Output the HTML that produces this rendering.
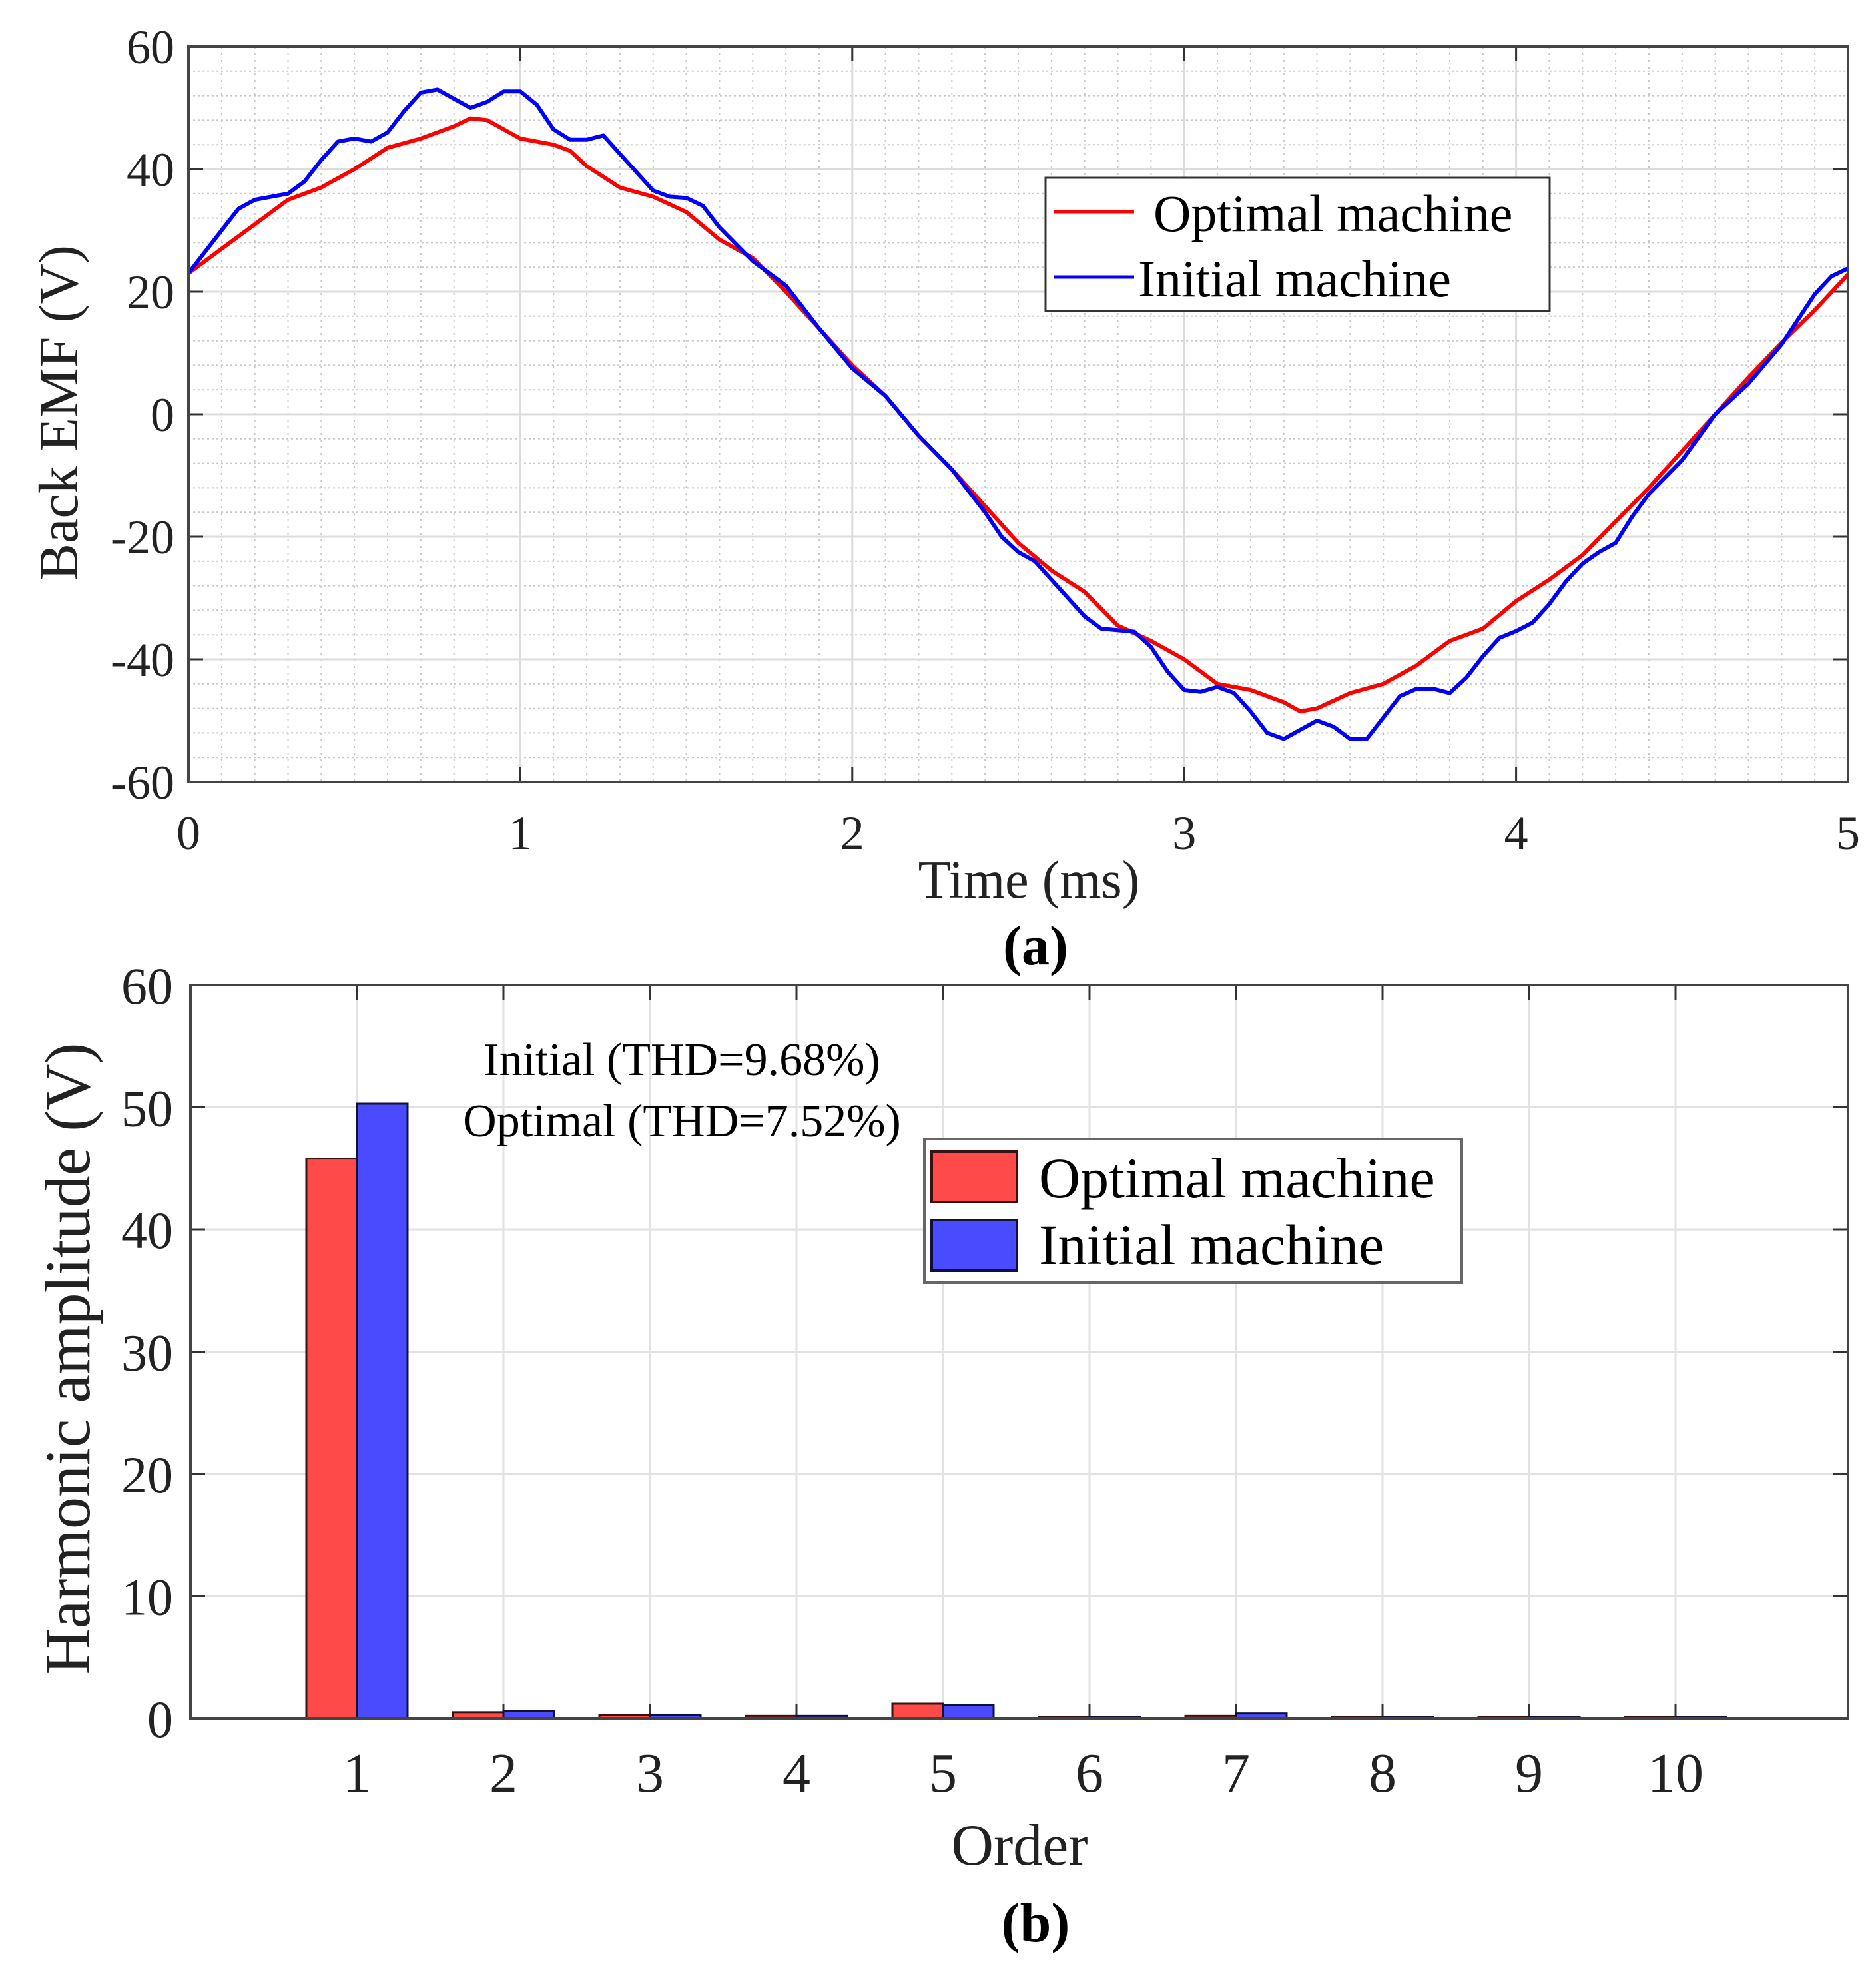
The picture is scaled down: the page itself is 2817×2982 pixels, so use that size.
<!DOCTYPE html>
<html><head><meta charset="utf-8"><style>
html,body{margin:0;padding:0;background:#fff;}
svg{display:block;font-family:"Liberation Serif",serif;}
</style></head><body>
<svg id="fig" width="2817" height="2982" viewBox="0 0 2817 2982" xmlns="http://www.w3.org/2000/svg">
<g id="gA"></g>
<g id="gB"></g>
</svg>
<script>
// ---- Chart (a) data ----
const optT = [0,0.1,0.2,0.3,0.4,0.5,0.6,0.7,0.8,0.85,0.9,1.0,1.1,1.15,1.2,1.3,1.4,1.5,1.6,1.7,1.8,1.9,2.0,2.1,2.2,2.3,2.4,2.5,2.6,2.7,2.8,2.9,3.0,3.1,3.2,3.3,3.35,3.4,3.5,3.6,3.7,3.8,3.9,4.0,4.1,4.2,4.3,4.4,4.5,4.6,4.7,4.8,4.9,5.0];
const optV = [23,27,31,35,37,40,43.5,45,47,48.3,48,45,44,43,40.5,37,35.5,33,28.5,25.5,20,14,8,3,-3.5,-9,-15,-21,-25.5,-29,-34.5,-37,-40,-44,-45,-47,-48.5,-48,-45.5,-44,-41,-37,-35,-30.5,-27,-23,-17.5,-12,-6,0,6,11.7,17,22.8];
const iniT = [0,0.1,0.15,0.2,0.3,0.35,0.4,0.45,0.5,0.55,0.6,0.65,0.7,0.75,0.8,0.85,0.9,0.95,1.0,1.05,1.1,1.15,1.2,1.25,1.3,1.4,1.45,1.5,1.55,1.6,1.7,1.8,1.9,2.0,2.1,2.2,2.3,2.4,2.45,2.5,2.55,2.6,2.7,2.75,2.85,2.9,2.95,3.0,3.05,3.1,3.15,3.2,3.25,3.3,3.35,3.4,3.45,3.5,3.55,3.6,3.65,3.7,3.75,3.8,3.85,3.9,3.95,4.0,4.05,4.1,4.15,4.2,4.25,4.3,4.35,4.4,4.5,4.6,4.7,4.8,4.9,4.95,5.0];
const iniV = [23,30,33.5,35,36,38,41.5,44.5,45,44.5,46,49.5,52.5,53,51.5,50,51,52.7,52.7,50.5,46.5,44.8,44.8,45.5,42.5,36.5,35.5,35.3,34,30.5,25,21,14,7.5,3,-3.5,-9,-16,-20,-22.5,-24,-27,-33,-35,-35.5,-38,-42,-45,-45.3,-44.5,-45.5,-48.5,-52,-53,-51.5,-50,-51,-53,-53,-49.5,-46,-44.8,-44.8,-45.5,-43,-39.5,-36.5,-35.4,-34,-31,-27.3,-24.4,-22.5,-21,-16.7,-13,-7.5,0,5,11.4,19.6,22.5,23.8];
const xTicksA = [0,1,2,3,4,5];
const yTicksA = [60,40,20,0,-20,-40,-60];
// ---- Chart (b) data ----
const orders = [1,2,3,4,5,6,7,8,9,10];
const optAmp = [45.8,0.5,0.3,0.2,1.2,0.1,0.2,0.1,0.1,0.1];
const iniAmp = [50.3,0.6,0.3,0.2,1.1,0.1,0.4,0.1,0.1,0.1];
const yTicksB = [0,10,20,30,40,50,60];

const NS="http://www.w3.org/2000/svg";
function mk(parent,tag,attrs,text){const e=document.createElementNS(NS,tag);for(const k in attrs)e.setAttribute(k,attrs[k]);if(text!==undefined)e.textContent=text;parent.appendChild(e);return e;}

// ===== Chart A =====
const gA=document.getElementById('gA');
const A={L:283,R:2775,T:70,B:1174};
const xA=t=>A.L+(t-0)/(5-0)*(A.R-A.L);
const yA=v=>A.B-(v+60)/120*(A.B-A.T);
for(let i=1;i<50;i++){ if(i%10===0) continue; const x=xA(i*0.1);
  const l=mk(gA,'line',{x1:x,y1:A.T,x2:x,y2:A.B,stroke:'#c8c8c8','stroke-width':2,'stroke-dasharray':'3 7'});
  }
for(let v=-56;v<60;v+=4){ if(v%20===0) continue; const y=yA(v);
  const l=mk(gA,'line',{x1:A.L,y1:y,x2:A.R,y2:y,stroke:'#c8c8c8','stroke-width':2,'stroke-dasharray':'3 4'});
  }
xTicksA.forEach(t=>{const x=xA(t);
  const l=mk(gA,'line',{x1:x,y1:A.T,x2:x,y2:A.B,stroke:'#dcdcdc','stroke-width':3});
  
  mk(gA,'line',{x1:x,y1:A.B,x2:x,y2:A.B-22,stroke:'#333','stroke-width':3});
  mk(gA,'line',{x1:x,y1:A.T,x2:x,y2:A.T+22,stroke:'#333','stroke-width':3});
  const tx=mk(gA,'text',{x:x,y:1275,'font-size':72,'text-anchor':'middle',fill:'#222'},String(t));
  });
yTicksA.forEach(v=>{const y=yA(v);
  const l=mk(gA,'line',{x1:A.L,y1:y,x2:A.R,y2:y,stroke:'#dcdcdc','stroke-width':3});
  
  mk(gA,'line',{x1:A.L,y1:y,x2:A.L+22,y2:y,stroke:'#333','stroke-width':3});
  mk(gA,'line',{x1:A.R,y1:y,x2:A.R-22,y2:y,stroke:'#333','stroke-width':3});
  const tx=mk(gA,'text',{x:262,y:y+25,'font-size':72,'text-anchor':'end',fill:'#222'},String(v));
  });
function linePath(ts,vs){return ts.map((t,i)=>(i?'L':'M')+xA(t).toFixed(1)+' '+yA(vs[i]).toFixed(1)).join(' ');}
const pOpt=mk(gA,'path',{d:linePath(optT,optV),fill:'none',stroke:'#ff0000','stroke-width':6,'stroke-linejoin':'round'});

const pIni=mk(gA,'path',{d:linePath(iniT,iniV),fill:'none',stroke:'#0000ff','stroke-width':6,'stroke-linejoin':'round'});

const frA=mk(gA,'rect',{x:A.L,y:A.T,width:A.R-A.L,height:A.B-A.T,fill:'none',stroke:'#444','stroke-width':4});

const xtA=mk(gA,'text',{x:1545,y:1348,'font-size':80,'text-anchor':'middle',fill:'#222'},'Time (ms)');

const ytA=mk(gA,'text',{x:0,y:0,'font-size':84,'text-anchor':'middle',fill:'#222',transform:'translate(116,620) rotate(-90)'},'Back EMF (V)');

const capA=mk(gA,'text',{x:1555,y:1448,'font-size':84,'font-weight':'bold','text-anchor':'middle',fill:'#000'},'(a)');

const lgA=mk(gA,'g',{});

mk(lgA,'rect',{x:1570,y:267,width:757,height:200,fill:'#fff',stroke:'#333','stroke-width':3});
mk(lgA,'line',{x1:1583,y1:318,x2:1703,y2:318,stroke:'#ff0000','stroke-width':5});
const la1=mk(lgA,'text',{x:1732,y:347,'font-size':78,fill:'#000'},'Optimal machine');

mk(lgA,'line',{x1:1583,y1:416,x2:1703,y2:416,stroke:'#0000ff','stroke-width':5});
const la2=mk(lgA,'text',{x:1709,y:445,'font-size':78,fill:'#000'},'Initial machine');


// ===== Chart B =====
const gB=document.getElementById('gB');
const Bx={L:286,R:2775,T:1479,B:2580};
const xB=k=>536+(k-1)*220.0;
const yB=v=>Bx.B-v/60*(Bx.B-Bx.T);
const bw=76;
orders.forEach(k=>{const x=xB(k);
  const l=mk(gB,'line',{x1:x,y1:Bx.T,x2:x,y2:Bx.B,stroke:'#e2e2e2','stroke-width':3});
  
  mk(gB,'line',{x1:x,y1:Bx.B,x2:x,y2:Bx.B-22,stroke:'#333','stroke-width':3});
  mk(gB,'line',{x1:x,y1:Bx.T,x2:x,y2:Bx.T+22,stroke:'#333','stroke-width':3});
  const tx=mk(gB,'text',{x:x,y:2690,'font-size':84,'text-anchor':'middle',fill:'#222'},String(k));
  });
yTicksB.forEach(v=>{const y=yB(v);
  const l=mk(gB,'line',{x1:Bx.L,y1:y,x2:Bx.R,y2:y,stroke:'#e2e2e2','stroke-width':3});
  
  mk(gB,'line',{x1:Bx.L,y1:y,x2:Bx.L+22,y2:y,stroke:'#333','stroke-width':3});
  mk(gB,'line',{x1:Bx.R,y1:y,x2:Bx.R-22,y2:y,stroke:'#333','stroke-width':3});
  const tx=mk(gB,'text',{x:260,y:y+28,'font-size':78,'text-anchor':'end',fill:'#222'},String(v));
  });
orders.forEach((k,i)=>{const x=xB(k);
  const r=mk(gB,'rect',{x:x-bw,y:yB(optAmp[i]),width:bw,height:yB(0)-yB(optAmp[i]),fill:'#ff4a4a',stroke:'#3a1010','stroke-width':3});
  
  const b=mk(gB,'rect',{x:x,y:yB(iniAmp[i]),width:bw,height:yB(0)-yB(iniAmp[i]),fill:'#4a4aff',stroke:'#10103a','stroke-width':3});
  });
const frB=mk(gB,'rect',{x:Bx.L,y:Bx.T,width:Bx.R-Bx.L,height:Bx.B-Bx.T,fill:'none',stroke:'#444','stroke-width':4});

const a1=mk(gB,'text',{x:1024,y:1614,'font-size':70,'text-anchor':'middle',fill:'#000'},'Initial (THD=9.68%)');

const a2=mk(gB,'text',{x:1024,y:1706,'font-size':70,'text-anchor':'middle',fill:'#000'},'Optimal (THD=7.52%)');

const xtB=mk(gB,'text',{x:1531,y:2800,'font-size':88,'text-anchor':'middle',fill:'#222'},'Order');

const ytB=mk(gB,'text',{x:0,y:0,'font-size':96,'text-anchor':'middle',fill:'#222',transform:'translate(134,2040) rotate(-90)'},'Harmonic amplitude (V)');

const capB=mk(gB,'text',{x:1555,y:2915,'font-size':84,'font-weight':'bold','text-anchor':'middle',fill:'#000'},'(b)');

const lgB=mk(gB,'g',{});

mk(lgB,'rect',{x:1388,y:1710,width:807,height:216,fill:'#fff',stroke:'#666','stroke-width':4});
mk(lgB,'rect',{x:1399,y:1729,width:128,height:76,fill:'#ff4a4a',stroke:'#3a1010','stroke-width':4});
const lb1=mk(lgB,'text',{x:1560,y:1798,'font-size':86,fill:'#000'},'Optimal machine');

mk(lgB,'rect',{x:1399,y:1832,width:128,height:76,fill:'#4a4aff',stroke:'#10103a','stroke-width':4});
const lb2=mk(lgB,'text',{x:1560,y:1898,'font-size':86,fill:'#000'},'Initial machine');

</script>
</body></html>
